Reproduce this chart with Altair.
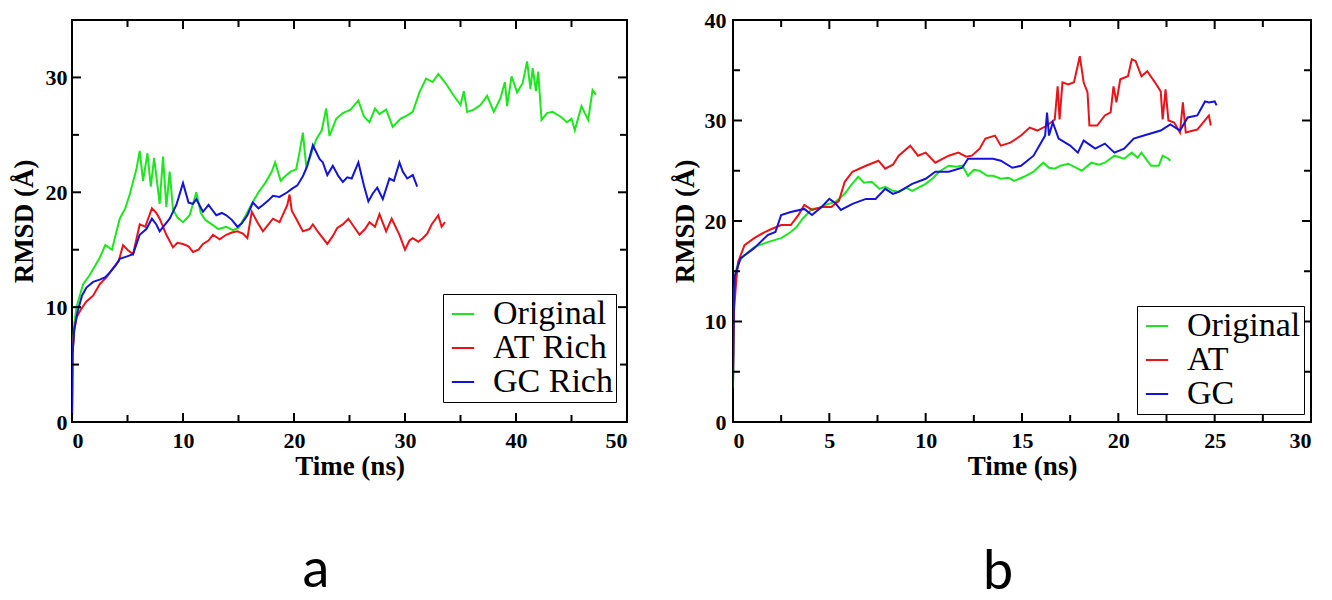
import altair as alt
import pandas as pd

# ---------------- data ----------------
a_names = ["Original", "AT Rich", "GC Rich"]
b_names = ["Original", "AT", "GC"]

a_original = [(0,0),(0.05,6.0),(0.2,8.5),(0.4,10.0),(1.0,12.0),(1.6,12.8),(2.5,14.3),(3.0,15.4),(3.6,15.0),(4.3,17.7),(4.8,18.6),(5.2,19.8),(5.8,22.0),(6.1,23.6),(6.4,21.0),(6.8,23.4),(7.1,20.5),(7.4,23.0),(7.9,19.0),(8.2,23.1),(8.5,18.7),(8.8,21.8),(9.1,18.5),(9.5,17.8),(10.0,17.4),(10.6,18.0),(11.2,20.0),(11.6,18.2),(12.0,17.6),(12.6,17.2),(13.2,16.8),(13.9,17.0),(14.5,16.7),(15.0,16.9),(15.6,17.9),(16.2,19.0),(16.8,20.0),(17.4,20.8),(18.0,21.8),(18.3,22.6),(18.8,21.0),(19.2,21.4),(19.7,21.8),(20.2,22.0),(20.5,23.5),(20.8,25.2),(21.1,22.3),(21.4,22.9),(22.0,24.6),(22.5,25.4),(22.9,27.3),(23.2,24.9),(23.8,26.4),(24.4,26.9),(25.1,27.2),(25.8,28.0),(26.3,26.6),(26.8,26.1),(27.3,27.3),(27.7,26.8),(28.3,27.2),(28.9,25.7),(29.6,26.4),(30.2,26.7),(30.7,27.0),(31.3,28.7),(31.9,29.9),(32.5,29.6),(33.0,30.3),(33.4,29.8),(33.8,29.3),(34.4,28.4),(35.0,27.6),(35.3,28.8),(35.6,27.0),(36.2,27.2),(36.8,27.6),(37.4,28.4),(38.0,27.0),(38.6,28.2),(39.0,29.6),(39.2,27.5),(39.6,30.1),(40.1,28.7),(40.6,29.5),(41.0,31.4),(41.3,29.0),(41.5,30.8),(41.8,28.8),(42.0,30.5),(42.3,26.3),(42.8,26.9),(43.3,27.0),(44.0,26.6),(44.6,26.1),(45.0,26.4),(45.3,25.4),(45.9,27.5),(46.5,26.3),(46.9,28.9),(47.2,28.5)]

a_at_rich = [(0,0),(0.05,6.0),(0.2,8.0),(0.4,9.1),(0.8,9.8),(1.3,10.5),(1.9,11.0),(2.5,12.0),(3.1,12.6),(3.7,13.4),(4.2,14.0),(4.6,15.4),(5.0,15.0),(5.5,14.6),(6.1,17.2),(6.6,17.0),(7.2,18.6),(7.6,18.2),(7.9,17.7),(8.5,16.3),(9.1,15.2),(9.5,15.6),(10.0,15.5),(10.5,15.3),(10.9,14.8),(11.4,15.0),(11.8,15.5),(12.3,15.8),(12.7,16.3),(13.3,15.9),(13.9,16.3),(14.4,16.5),(14.9,16.6),(15.4,16.4),(15.8,16.0),(16.2,18.3),(16.7,17.4),(17.2,16.6),(17.7,17.2),(18.1,17.7),(18.7,17.4),(19.4,18.9),(19.6,19.8),(19.8,18.4),(20.2,17.7),(20.8,16.6),(21.4,16.8),(21.7,17.2),(22.2,16.5),(22.6,16.0),(23.0,15.5),(23.5,16.2),(23.9,16.9),(24.4,17.2),(24.9,17.7),(25.4,17.0),(25.9,16.3),(26.4,16.8),(26.8,17.4),(27.3,17.0),(27.7,18.1),(28.3,16.6),(28.8,17.7),(29.5,16.3),(30.0,15.0),(30.4,15.8),(30.7,16.0),(31.2,15.7),(31.6,16.0),(32.0,16.4),(32.4,17.2),(33.0,18.0),(33.3,17.0),(33.6,17.4)]

a_gc_rich = [(0,0),(0.05,5.9),(0.2,8.0),(0.5,9.6),(0.9,11.0),(1.3,11.7),(1.9,12.2),(2.5,12.4),(3.0,12.6),(3.4,13.0),(3.9,13.6),(4.3,14.2),(4.9,14.4),(5.5,14.6),(6.1,16.3),(6.7,16.8),(7.2,17.7),(7.6,17.2),(7.9,16.6),(8.3,17.1),(8.8,17.7),(9.4,18.9),(10.0,20.8),(10.5,19.1),(10.9,19.0),(11.2,19.4),(11.8,18.3),(12.3,18.9),(13.0,18.0),(13.5,18.2),(13.9,18.0),(14.4,17.6),(14.9,17.0),(15.3,17.3),(15.8,18.0),(16.3,19.1),(16.8,18.6),(17.2,18.9),(17.7,19.3),(18.1,19.7),(18.7,19.6),(19.4,20.0),(19.8,20.3),(20.3,20.6),(20.8,21.4),(21.2,22.3),(21.7,24.1),(22.3,22.9),(22.6,22.6),(23.0,21.5),(23.5,22.3),(24.0,21.4),(24.4,20.9),(24.8,21.3),(25.2,21.2),(25.8,22.6),(26.3,20.6),(26.7,19.2),(27.1,19.9),(27.5,20.4),(28.0,19.4),(28.6,21.2),(29.0,21.0),(29.5,22.6),(29.8,21.8),(30.2,21.2),(30.7,21.5),(31.1,20.5)]

b_original = [(0,3.5),(0.05,12.0),(0.15,15.0),(0.3,16.0),(0.6,16.6),(1.1,17.4),(1.8,17.9),(2.5,18.3),(3.0,18.9),(3.3,19.4),(3.6,20.2),(4.1,21.2),(4.5,21.3),(4.8,21.6),(5.3,21.9),(5.8,22.7),(6.1,23.5),(6.5,24.4),(6.8,23.8),(7.2,23.9),(7.6,23.2),(7.9,23.4),(8.3,23.0),(8.6,22.9),(9.0,23.3),(9.3,23.0),(9.7,23.4),(10.0,23.7),(10.4,24.3),(10.7,24.9),(11.2,25.5),(11.6,25.4),(11.9,25.5),(12.2,24.5),(12.5,25.1),(12.8,25.0),(13.2,24.5),(13.5,24.5),(13.9,24.2),(14.3,24.3),(14.6,24.0),(15.1,24.4),(15.6,24.9),(16.1,25.8),(16.4,25.3),(16.7,25.2),(17.0,25.5),(17.4,25.7),(17.8,25.3),(18.1,25.0),(18.6,25.8),(19.0,25.6),(19.3,25.8),(19.8,26.5),(20.3,26.2),(20.7,26.8),(21.0,26.3),(21.2,26.8),(21.5,26.0),(21.7,25.5),(22.1,25.5),(22.3,26.5),(22.6,26.2),(22.7,26.0)]

b_at = [(0,4.0),(0.05,11.0),(0.15,13.6),(0.26,15.9),(0.6,17.6),(1.1,18.3),(1.65,18.9),(2.0,19.2),(2.5,19.6),(3.0,19.6),(3.4,20.6),(3.7,21.6),(4.1,21.1),(4.6,21.4),(5.1,21.4),(5.5,22.0),(5.8,23.9),(6.2,24.9),(6.9,25.5),(7.55,26.0),(7.9,25.2),(8.3,25.6),(8.6,26.5),(9.2,27.5),(9.6,26.5),(10.0,26.8),(10.5,25.8),(10.9,26.2),(11.2,26.5),(11.7,26.8),(12.1,26.4),(12.4,26.5),(12.8,27.2),(13.1,28.2),(13.6,28.5),(13.9,27.5),(14.4,27.8),(14.95,28.5),(15.4,29.3),(15.8,29.0),(16.3,29.5),(16.7,30.1),(16.85,33.4),(16.95,30.1),(17.1,33.8),(17.4,33.6),(17.7,33.8),(18.0,36.4),(18.2,33.8),(18.4,32.8),(18.5,29.5),(18.9,29.5),(19.3,30.5),(19.6,30.8),(19.75,33.4),(19.9,31.8),(20.1,34.1),(20.5,34.4),(20.7,36.1),(20.9,35.9),(21.2,34.4),(21.5,34.9),(21.9,33.8),(22.2,32.9),(22.3,30.1),(22.45,33.1),(22.6,30.0),(22.9,29.8),(23.2,28.8),(23.35,31.8),(23.5,28.8),(24.1,29.1),(24.7,30.5),(24.8,29.5)]

b_gc = [(0,3.4),(0.05,12.5),(0.1,14.6),(0.4,16.3),(1.1,17.3),(1.8,18.6),(2.2,18.9),(2.5,20.6),(3.0,20.9),(3.7,21.2),(4.1,20.6),(4.6,21.4),(5.0,22.2),(5.3,21.8),(5.6,21.1),(6.2,21.7),(6.9,22.2),(7.4,22.2),(7.9,23.2),(8.3,22.7),(8.6,22.9),(9.3,23.7),(10.0,24.2),(10.5,24.9),(11.2,24.9),(11.9,25.3),(12.2,26.2),(12.8,26.2),(13.5,26.2),(13.9,26.0),(14.5,25.3),(14.95,25.5),(15.6,26.5),(16.2,28.5),(16.3,30.8),(16.4,28.5),(16.6,29.8),(16.9,28.2),(17.5,27.5),(17.9,26.8),(18.2,28.0),(18.8,27.2),(19.3,27.7),(19.8,26.8),(20.3,27.2),(20.8,28.2),(21.5,28.6),(22.2,29.0),(22.7,29.6),(23.2,29.0),(23.6,30.3),(24.1,30.5),(24.5,31.9),(24.7,31.8),(25.0,31.9),(25.1,31.5)]

a_x_major = [0, 10, 20, 30, 40, 50]
a_x_minor = [5, 15, 25, 35, 45]
a_y_major = [0, 10, 20, 30]
a_y_minor = [5, 15, 25]
b_x_major = [0, 5, 10, 15, 20, 25, 30]
b_x_minor = [2.5, 7.5, 12.5, 17.5, 22.5, 27.5]
b_y_major = [0, 10, 20, 30, 40]
b_y_minor = [5, 15, 25, 35]

COLORS = ["#1ee61e", "#e81419", "#1414d6"]
SERIF = "Liberation Serif"


def make_frame(names, series):
    rows = []
    for name, pts in zip(names, series):
        for i, (t, r) in enumerate(pts):
            rows.append({"series": name, "time": t, "rmsd": r, "idx": i})
    return pd.DataFrame(rows)


def panel(names, series, xdom, ydom, xmaj, xmin, ymaj, ymin, W, H,
          legxy, label, labxy, ylabpad, ytitlepad):
    df = make_frame(names, series)
    xs = alt.Scale(domain=xdom, nice=False, zero=False)
    ys = alt.Scale(domain=ydom, nice=False, zero=False)
    xaxis = alt.Axis(values=xmaj, title="Time (ns)", format="d",
                     labelPadding=8, titlePadding=2)
    yaxis = alt.Axis(values=ymaj, title="RMSD (Å)", format="d",
                     labelPadding=ylabpad, titlePadding=ytitlepad)
    X = alt.X("time:Q", scale=xs, axis=xaxis)
    Y = alt.Y("rmsd:Q", scale=ys, axis=yaxis)
    lines = alt.Chart(df).mark_line(strokeWidth=2, clip=True).encode(
        x=X, y=Y,
        color=alt.Color("series:N",
                        scale=alt.Scale(domain=names, range=COLORS),
                        legend=alt.Legend(orient="none", legendX=legxy[0], legendY=legxy[1],
                                          title=None, strokeColor="black", fillColor="white",
                                          padding=3, labelFont=SERIF, labelFontSize=34,
                                          labelColor="black", symbolType="stroke",
                                          symbolSize=500, symbolStrokeWidth=2,
                                          rowPadding=0, labelOffset=13, labelLimit=400)),
        order=alt.Order("idx:Q"),
    )
    layers = [lines]

    def xt(vals, L):
        d = pd.DataFrame({"time": vals})
        b = alt.Chart(d).mark_rule(color="black", strokeWidth=2).encode(
            x=X, y=alt.value(H), y2=alt.value(H - L))
        t = alt.Chart(d).mark_rule(color="black", strokeWidth=2).encode(
            x=X, y=alt.value(0), y2=alt.value(L))
        return [b, t]

    def yt(vals, L):
        d = pd.DataFrame({"rmsd": vals})
        l = alt.Chart(d).mark_rule(color="black", strokeWidth=2).encode(
            y=Y, x=alt.value(0), x2=alt.value(L))
        r = alt.Chart(d).mark_rule(color="black", strokeWidth=2).encode(
            y=Y, x=alt.value(W), x2=alt.value(W - L))
        return [l, r]

    layers += xt(xmaj, 9) + xt(xmin, 7) + yt(ymaj, 9) + yt(ymin, 7)

    lab = alt.Chart(pd.DataFrame({"panel": [label]})).mark_text(
        font="Lato", fontSize=54, align="center", baseline="alphabetic", color="black"
    ).encode(text="panel:N", x=alt.value(labxy[0]), y=alt.value(labxy[1]))
    layers.append(lab)

    return alt.layer(*layers).properties(width=W, height=H)


left = panel(a_names, [a_original, a_at_rich, a_gc_rich], [0, 50], [0, 35],
             a_x_major, a_x_minor, a_y_major, a_y_minor, 555, 402,
             (371, 274), "a", (244, 567), 5, 7)
right = panel(b_names, [b_original, b_at, b_gc], [0, 30], [0, 40],
              b_x_major, b_x_minor, b_y_major, b_y_minor, 578, 402,
              (404, 286), "b", (265, 569), 7, 5)

chart = alt.hconcat(left, right, spacing=106, bounds="flush").resolve_scale(
    x="independent", y="independent", color="independent"
).resolve_legend(color="independent").configure(
    padding={"left": 1, "top": 0, "right": 0, "bottom": 30},
    background="white",
).configure_view(
    stroke="black", strokeWidth=2
).configure_axis(
    domain=False, ticks=False, grid=False,
    labelFont=SERIF, labelFontWeight="bold", labelFontSize=22, labelColor="black",
    titleFont=SERIF, titleFontWeight="bold", titleFontSize=27, titleColor="black",
)

chart.save("out.html", embed_options={"renderer": "svg", "actions": False})
